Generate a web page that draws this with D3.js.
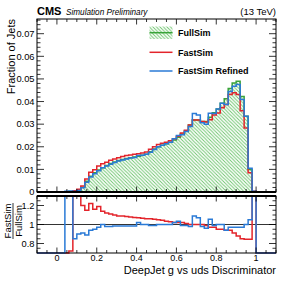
<!DOCTYPE html>
<html><head><meta charset="utf-8">
<script src="https://cdn.jsdelivr.net/npm/d3@7"></script>
<style>body{margin:0;background:#fff} svg{display:block} text{font-family:"Liberation Sans",Arial,Helvetica,sans-serif}</style>
</head><body><svg id="c" width="291" height="282"></svg>
<script>
// ---- data (bins of 0.02 from 0 to 1) ----
const binWidth = 0.02;
const fullSim = [0,0,0.0001,0.0002,0.0003,0.0008,0.0021,0.0048,0.0070,0.0085,
  0.0097,0.0107,0.0117,0.0126,0.0133,0.0139,0.0144,0.0148,0.0152,0.0155,
  0.0158,0.0162,0.0167,0.0178,0.0190,0.0200,0.0207,0.0213,0.0220,0.0230,
  0.0242,0.0256,0.0270,0.0296,0.0318,0.0318,0.0312,0.0312,0.0330,0.0350,
  0.0367,0.0392,0.0412,0.0458,0.0482,0.0490,0.0422,0.0335,0.0100,0.00005];
const fastSim = [0,0,0,0.00014,0.0006,0.0012,0.0026,0.0058,0.0087,0.0098,
  0.0115,0.0125,0.0132,0.0140,0.0146,0.0152,0.0157,0.0161,0.0164,0.0167,
  0.0169,0.0173,0.0177,0.0189,0.0200,0.0210,0.0216,0.0220,0.0227,0.0235,
  0.0247,0.0261,0.0273,0.0296,0.0318,0.0318,0.0312,0.0309,0.0320,0.0340,
  0.0349,0.0372,0.0387,0.0431,0.0439,0.0431,0.0359,0.0283,0.0085,0.0003];
const fastSimRefined = [0,0,0.0003,0.0004,0.00026,0.0007,0.0019,0.0043,0.0066,0.0081,
  0.0094,0.0107,0.0115,0.0123,0.0131,0.0137,0.0142,0.0146,0.0150,0.0153,
  0.0161,0.0162,0.0167,0.0176,0.0188,0.0200,0.0207,0.0213,0.0220,0.0235,
  0.0250,0.0253,0.0267,0.0290,0.0347,0.0340,0.0306,0.0300,0.0348,0.0347,
  0.0367,0.0392,0.0387,0.0444,0.0468,0.0475,0.0409,0.0335,0.0105,0.0003];
const ratioFast = [0,0,0,0.72,2,2,1.2,1.15,1.22,1.16,
  1.19,1.14,1.12,1.11,1.1,1.09,1.09,1.085,1.08,1.075,
  1.07,1.065,1.06,1.06,1.055,1.05,1.045,1.035,1.03,1.02,
  1.02,1.02,1.01,1.0,1.0,1.0,1.0,0.99,0.97,0.97,
  0.95,0.95,0.94,0.94,0.91,0.88,0.85,0.845,0.845,2];
const ratioRefined = [0,0,2,2,0.85,0.9,0.91,0.89,0.94,0.95,
  0.97,1.0,0.98,0.98,0.985,0.985,0.985,0.985,0.985,0.985,
  1.02,1.0,1.0,0.99,0.99,1.0,1.0,1.0,1.0,1.02,
  1.035,0.99,0.99,0.98,1.09,1.07,0.98,0.96,1.055,0.99,
  1.0,1.0,0.94,0.97,0.97,0.97,0.97,1.0,1.05,2];
const yTicks = [0,0.01,0.02,0.03,0.04,0.05,0.06,0.07];
const yTickLabels = ["0","0.01","0.02","0.03","0.04","0.05","0.06","0.07"];
const xTicks = [0,0.2,0.4,0.6,0.8,1];
const xTickLabels = ["0","0.2","0.4","0.6","0.8","1"];
const rTicks = [0.8,1,1.2];
const rTickLabels = ["0.8","1","1.2"];
const legendLabels = ["FullSim","FastSim","FastSim Refined"];

// ---- layout ----
const L=37,R=276,T=19,MB=192,RT=196,RB=253;
const GREEN="#39a339", HATCH="#6cc46c", RED="#e3242b", BLUE="#2a7ad6";
const x = d3.scaleLinear([-0.1,1.1],[L,R]);
const y = d3.scaleLinear([0,0.0765],[MB,T]);
const yr = d3.scaleLinear([0.7,1.3],[RB,RT]).clamp(true);
const svg = d3.select('#c');

const defs = svg.append('defs');
const pat = defs.append('pattern').attr('id','hatch').attr('patternUnits','userSpaceOnUse')
  .attr('width',3.5).attr('height',3.5);
pat.append('path').attr('d','M-1,-1L4.5,4.5M-1,2.5L1,4.5M2.5,-1L4.5,1')
  .attr('stroke',HATCH).attr('stroke-width',0.9).attr('fill','none');
defs.append('clipPath').attr('id','mainclip').append('rect')
  .attr('x',L).attr('y',T).attr('width',R-L).attr('height',MB-T);

function stepPath(vals, ys, base){
  const p = d3.path();
  p.moveTo(x(-0.1), ys(base));
  p.lineTo(x(0), ys(base));
  vals.forEach((v,i)=>{ p.lineTo(x(i*binWidth), ys(v)); p.lineTo(x((i+1)*binWidth), ys(v)); });
  p.lineTo(x(vals.length*binWidth), ys(base));
  p.lineTo(x(1.1), ys(base));
  return p.toString();
}

// main panel histograms
const gm = svg.append('g').attr('clip-path','url(#mainclip)');
gm.append('path').attr('d', stepPath(fullSim,y,0)+'Z').attr('fill','url(#hatch)');
gm.append('path').attr('d', stepPath(fullSim,y,0)).attr('fill','none').attr('stroke',GREEN).attr('stroke-width',1.5);
gm.append('path').attr('d', stepPath(fastSim,y,0)).attr('fill','none').attr('stroke',RED).attr('stroke-width',1.5);
gm.append('path').attr('d', stepPath(fastSimRefined,y,0)).attr('fill','none').attr('stroke',BLUE).attr('stroke-width',1.5);

// ratio panel
svg.append('line').attr('x1',L).attr('x2',R).attr('y1',yr(1)).attr('y2',yr(1)).attr('stroke','#000').attr('stroke-width',0.8);
svg.append('path').attr('d', stepPath(ratioFast,yr,0)).attr('fill','none').attr('stroke',RED).attr('stroke-width',1.5);
svg.append('path').attr('d', stepPath(ratioRefined,yr,0)).attr('fill','none').attr('stroke',BLUE).attr('stroke-width',1.5);

// frames
function frame(t,b){
  svg.append('rect').attr('x',L).attr('y',t).attr('width',R-L).attr('height',b-t)
    .attr('fill','none').attr('stroke','#000').attr('stroke-width',1);
}
frame(T,MB); frame(RT,RB);
svg.append('line').attr('x1',L).attr('x2',R).attr('y1',MB).attr('y2',MB).attr('stroke','#000').attr('stroke-width',2);
svg.append('line').attr('x1',L).attr('x2',R).attr('y1',RT).attr('y2',RT).attr('stroke','#000').attr('stroke-width',2);

// ticks
const tk = svg.append('g').attr('stroke','#000').attr('stroke-width',0.8);
function hTicks(vals, sc, len){ vals.forEach(v=>{ const yy=sc(v);
  tk.append('line').attr('x1',L).attr('x2',L+len).attr('y1',yy).attr('y2',yy);
  tk.append('line').attr('x1',R).attr('x2',R-len).attr('y1',yy).attr('y2',yy); }); }
function vTicks(vals, top, bot, len){ vals.forEach(v=>{ const xx=x(v);
  tk.append('line').attr('x1',xx).attr('x2',xx).attr('y1',top).attr('y2',top+len);
  tk.append('line').attr('x1',xx).attr('x2',xx).attr('y1',bot).attr('y2',bot-len); }); }
hTicks(yTicks, y, 7);
hTicks(d3.range(0,0.0765,0.002).filter(v=>Math.abs(v/0.01-Math.round(v/0.01))>1e-6), y, 3.5);
const xMinor = d3.range(-0.1,1.1001,0.05).filter(v=>Math.abs(v/0.2-Math.round(v/0.2))>1e-6);
vTicks(xTicks, T, MB, 5.5); vTicks(xMinor, T, MB, 3);
vTicks(xTicks, RT, RB, 5.5); vTicks(xMinor, RT, RB, 3);
hTicks(rTicks, yr, 7);
hTicks(d3.range(0.7,1.3001,0.05).filter(v=>Math.abs(v/0.2-Math.round(v/0.2))>1e-6 && v>0.701 && v<1.299), yr, 3.5);

// tick labels
const lab = svg.append('g').attr('font-size',9.3).attr('fill','#000');
yTicks.forEach((v,i)=>lab.append('text').attr('x',L-2.5).attr('y',y(v)).attr('dy','0.35em').attr('text-anchor','end').text(yTickLabels[i]));
rTicks.forEach((v,i)=>lab.append('text').attr('x',L-2.5).attr('y',yr(v)).attr('dy','0.35em').attr('text-anchor','end').text(rTickLabels[i]));
xTicks.forEach((v,i)=>lab.append('text').attr('x',x(v)).attr('y',261).attr('font-size',9).attr('text-anchor','middle').text(xTickLabels[i]));

// axis titles
svg.append('text').attr('x',R).attr('y',273.5).attr('text-anchor','end').attr('font-size',11).text('DeepJet g vs uds Discriminator');
svg.append('text').attr('transform','translate(15,19) rotate(-90)').attr('text-anchor','end').attr('font-size',11).text('Fraction of Jets');
const rt = svg.append('g').attr('transform','translate(13,221) rotate(-90)');
rt.append('text').attr('x',0).attr('y',-1.8).attr('text-anchor','middle').attr('font-size',9.5).text('FastSim');
rt.append('text').attr('x',0).attr('y',8.6).attr('text-anchor','middle').attr('font-size',9.5).text('FullSim');
rt.append('line').attr('x1',-18).attr('x2',18).attr('y1',0).attr('y2',0).attr('stroke','#000').attr('stroke-width',0.8);

// header
svg.append('text').attr('x',L).attr('y',14.5).attr('font-size',11).attr('font-weight','bold').text('CMS');
svg.append('text').attr('x',66).attr('y',14.5).attr('font-size',8.2).attr('font-style','italic').text('Simulation Preliminary');
svg.append('text').attr('x',R).attr('y',14.5).attr('font-size',9.5).attr('text-anchor','end').text('(13 TeV)');

// legend
const lg = svg.append('g');
lg.append('rect').attr('x',149.5).attr('y',26.5).attr('width',23).attr('height',12.5).attr('fill','url(#hatch)');
lg.append('line').attr('x1',149.5).attr('x2',172.5).attr('y1',32.7).attr('y2',32.7).attr('stroke',GREEN).attr('stroke-width',1.5);
lg.append('line').attr('x1',149.5).attr('x2',172.5).attr('y1',52.3).attr('y2',52.3).attr('stroke',RED).attr('stroke-width',1.5);
lg.append('line').attr('x1',149.5).attr('x2',172.5).attr('y1',71).attr('y2',71).attr('stroke',BLUE).attr('stroke-width',1.5);
[36.3,55.5,74.3].forEach((yy,i)=>lg.append('text').attr('x',178).attr('y',yy).attr('font-size',9).attr('font-weight','bold').text(legendLabels[i]));
</script></body></html>
